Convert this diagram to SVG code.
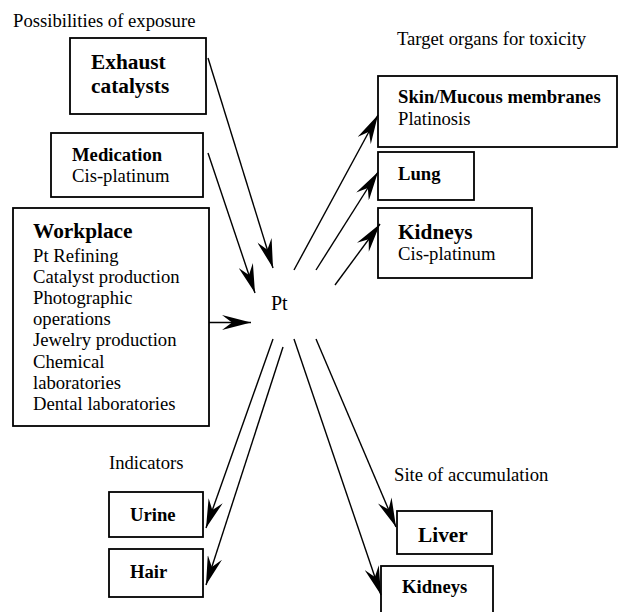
<svg xmlns="http://www.w3.org/2000/svg" width="618" height="612" viewBox="0 0 618 612">
<style>
text{font-family:"Liberation Serif","Times New Roman",serif;fill:#000}
.r{font-size:18.67px}
.p{font-size:20px}
.b{font-size:18.67px;font-weight:bold}
.B{font-size:21.33px;font-weight:bold}
.box{fill:#fff;stroke:#000;stroke-width:1.8}
.c{stroke:#000;stroke-width:1.4;fill:none;marker-end:url(#ah)}
</style>
<defs>
<marker id="ah" markerUnits="userSpaceOnUse" markerWidth="30" markerHeight="15" viewBox="0 0 30 15" refX="29" refY="7.5" orient="auto">
<path d="M0,0 L29,7.5 L0,15 L10,7.5 Z" fill="#000"/>
</marker>
</defs>
<rect width="618" height="612" fill="#fff"/>
<text class="r" x="13" y="27">Possibilities of exposure</text>
<text class="r" x="397" y="45">Target organs for toxicity</text>
<text class="r" x="109" y="469">Indicators</text>
<text class="r" x="394" y="481">Site of accumulation</text>
<g id="exhaust"><rect class="box" x="70" y="38" width="136" height="76"/><text class="B" x="91" y="69">Exhaust</text><text class="B" x="91" y="93">catalysts</text></g>
<g id="medication"><rect class="box" x="51" y="133" width="152" height="64"/><text class="b" x="72" y="161">Medication</text><text class="r" x="72" y="182">Cis-platinum</text></g>
<g id="workplace"><rect class="box" x="13" y="208" width="196" height="218"/><text class="B" x="33" y="238">Workplace</text>
<text class="r" x="33" y="261.5">Pt Refining</text>
<text class="r" x="33" y="282.7">Catalyst production</text>
<text class="r" x="33" y="303.9">Photographic</text>
<text class="r" x="33" y="325.1">operations</text>
<text class="r" x="33" y="346.3">Jewelry production</text>
<text class="r" x="33" y="367.5">Chemical</text>
<text class="r" x="33" y="388.7">laboratories</text>
<text class="r" x="33" y="409.9">Dental laboratories</text></g>
<g id="pt"><text class="p" x="271" y="310">Pt</text></g>
<g id="skin"><rect class="box" x="378" y="76" width="239" height="71"/><text class="b" x="398" y="103">Skin/Mucous membranes</text><text class="r" x="398" y="125">Platinosis</text></g>
<g id="lung"><rect class="box" x="378" y="152" width="96" height="48"/><text class="b" x="398" y="180">Lung</text></g>
<g id="kidneys-tox"><rect class="box" x="378" y="208" width="154" height="70"/><text class="B" x="398" y="239">Kidneys</text><text class="r" x="398" y="260">Cis-platinum</text></g>
<g id="urine"><rect class="box" x="109" y="492" width="94" height="45"/><text class="b" x="130" y="521">Urine</text></g>
<g id="hair"><rect class="box" x="109" y="549" width="94" height="48"/><text class="b" x="130" y="578">Hair</text></g>
<g id="liver"><rect class="box" x="397" y="511" width="95" height="43"/><text class="B" x="418" y="542">Liver</text></g>
<g id="kidneys-acc"><rect class="box" x="381" y="566" width="112" height="60"/><text class="b" x="402" y="593">Kidneys</text></g>
<g id="connectors">
<line class="c" x1="208" y1="58" x2="273" y2="268"/>
<line class="c" x1="208" y1="153" x2="255" y2="293"/>
<line class="c" x1="209" y1="322.5" x2="251" y2="322.5"/>
<line class="c" x1="294" y1="270" x2="378" y2="115"/>
<line class="c" x1="316" y1="270" x2="378" y2="172"/>
<line class="c" x1="335" y1="285" x2="380" y2="224"/>
<line class="c" x1="273" y1="339" x2="206" y2="528"/>
<line class="c" x1="283" y1="347" x2="206" y2="585"/>
<line class="c" x1="294" y1="339" x2="381" y2="595"/>
<line class="c" x1="316" y1="339" x2="396" y2="527"/>
</g>
</svg>
